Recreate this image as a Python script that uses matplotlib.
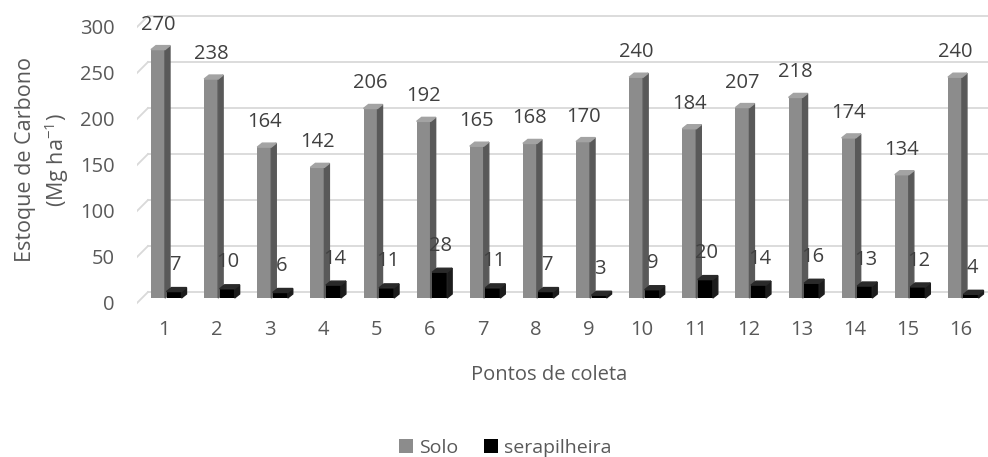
import numpy as np
import matplotlib.pyplot as plt
from matplotlib.patches import Polygon

plt.rcParams['font.family'] = ['Open Sans', 'DejaVu Sans']
plt.rcParams['mathtext.fontset'] = 'custom'
plt.rcParams['mathtext.rm'] = 'Open Sans'

# carbon stock per sampling point
pontos = np.arange(1, 17)
solo = [270, 238, 164, 142, 206, 192, 165, 168, 170, 240, 184, 207, 218, 174, 134, 240]
serapilheira = [7, 10, 6, 14, 11, 28, 11, 7, 3, 9, 20, 14, 16, 13, 12, 4]
yticks = [0, 50, 100, 150, 200, 250, 300]

txt = '#595959'
grid = '#d9d9d9'

fig = plt.figure(figsize=(9.88, 4.57), dpi=100)
ax = fig.add_axes([137/988, (457-305)/457, (988-137)/988, (305-10)/457])

# pixel -> data unit helpers (x spacing 53 px per point, 0.92 px per Mg)
PX = 1/53.13
PY = 1/0.92
ax.set_xlim(1 - 27*PX, 1 + 824*PX)
ax.set_ylim(-7*PY, 288*PY)
x0 = ax.get_xlim()[0]
x1 = ax.get_xlim()[1]

# back wall gridlines with the short diagonal of the side wall
for v in yticks:
    ax.plot([x0, x0 + 11*PX], [v - 5*PY, v + 6*PY], color=grid, lw=1.3, zorder=1)
    ax.plot([x0 + 11*PX, x1], [v + 6*PY, v + 6*PY], color=grid, lw=1.3, zorder=1)

dx = 5*PX
dy = 4*PY


def column(xl, w, v, front, side, top, label):
    ax.bar(xl + w/2, v, width=w, color=front, zorder=3, label=label)
    xr = xl + w
    ax.add_patch(Polygon([(xr, 0), (xr + dx, dy), (xr + dx, v + dy), (xr, v)],
                         closed=True, color=side, zorder=3))
    ax.add_patch(Polygon([(xl, v), (xr, v), (xr + dx, v + dy), (xl + dx, v + dy)],
                         closed=True, color=top, zorder=3))


for i, c in enumerate(pontos):
    column(c - 13*PX, 14*PX, solo[i], '#8c8c8c', '#595959', '#a3a3a3',
           'Solo' if i == 0 else None)
    column(c + 2.5*PX, 15*PX, serapilheira[i], '#000000', '#1c1c1c', '#2a2a2a',
           'serapilheira' if i == 0 else None)
    ax.annotate(str(solo[i]), (c - 6*PX, solo[i]), xytext=(0, 18),
                textcoords='offset points', ha='center', va='center',
                fontsize=14.5, color='#404040', zorder=4)
    ax.annotate(str(serapilheira[i]), (c + 11*PX, serapilheira[i]), xytext=(0, 19),
                textcoords='offset points', ha='center', va='center',
                fontsize=14.5, color='#404040', zorder=4)

ax.set_xticks(pontos, [str(p) for p in pontos])
ax.set_yticks(np.array(yticks) - 5*PY, [str(v) for v in yticks])
ax.tick_params(axis='x', length=0, pad=11, labelsize=14.5, labelcolor=txt)
ax.tick_params(axis='y', length=0, pad=16, labelsize=14.5, labelcolor=txt)
for s in ax.spines.values():
    s.set_visible(False)

fig.text(549/988, 1 - 375/457, 'Pontos de coleta', ha='center', va='center',
         fontsize=14.5, color=txt)
fig.text(43/988, 1 - 160/457, 'Estoque de Carbono\n(Mg ha$^{\\mathregular{-1}}$)',
         ha='center', va='center', rotation=90, multialignment='center',
         fontsize=15.5, color=txt, linespacing=1.3)

fig.legend(loc='center', bbox_to_anchor=(505/988, 1 - 448/457), ncol=2,
           frameon=False, fontsize=14, labelcolor=txt, handlelength=0.75,
           handleheight=0.75, handletextpad=0.3, columnspacing=1.3)

plt.savefig('out.png', dpi=100)
plt.close()
